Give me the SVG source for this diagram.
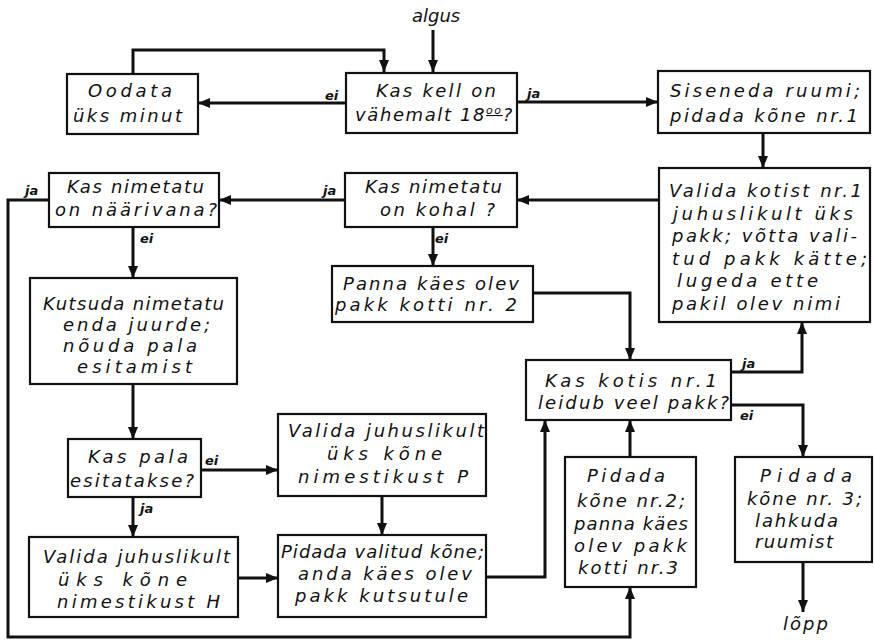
<svg xmlns="http://www.w3.org/2000/svg" width="874" height="640" viewBox="0 0 874 640">
<style>
  .box { fill: #fff; stroke: #111; stroke-width: 2.2; }
  .t { font-family: "DejaVu Sans", "Liberation Sans", sans-serif; font-style: italic; font-size: 18px; fill: #111; }
  .lbl { font-family: "DejaVu Sans", "Liberation Sans", sans-serif; font-style: italic; font-weight: bold; font-size: 13px; fill: #111; }
  .c { fill: none; stroke: #111; stroke-width: 3; stroke-linejoin: miter; }
</style>
<defs>
  <marker id="ah" markerUnits="userSpaceOnUse" markerWidth="12" markerHeight="12" viewBox="0 0 12 12" refX="12" refY="6" orient="auto">
    <path d="M0,1 L12,6 L0,11 Z" fill="#111"/>
  </marker>
</defs>
<rect width="874" height="640" fill="#fff"/>

<g id="connectors">
  <path class="c" d="M433,30 L433,72" marker-end="url(#ah)"/>
  <path class="c" d="M346,103 L198,103" marker-end="url(#ah)"/>
  <path class="c" d="M133,74 L133,50 L384,50 L384,72" marker-end="url(#ah)"/>
  <path class="c" d="M517,102 L658,102" marker-end="url(#ah)"/>
  <path class="c" d="M763,133 L763,168" marker-end="url(#ah)"/>
  <path class="c" d="M659,200 L517,200" marker-end="url(#ah)"/>
  <path class="c" d="M345,200 L219,200" marker-end="url(#ah)"/>
  <path class="c" d="M49,200 L8,200 L8,637 L630,637 L630,587" marker-end="url(#ah)"/>
  <path class="c" d="M133,227 L133,278" marker-end="url(#ah)"/>
  <path class="c" d="M133,384 L133,439" marker-end="url(#ah)"/>
  <path class="c" d="M201,470 L278,470" marker-end="url(#ah)"/>
  <path class="c" d="M382,496 L382,535" marker-end="url(#ah)"/>
  <path class="c" d="M133,497 L133,537" marker-end="url(#ah)"/>
  <path class="c" d="M238,578 L278,578" marker-end="url(#ah)"/>
  <path class="c" d="M486,577 L545,577 L545,420" marker-end="url(#ah)"/>
  <path class="c" d="M433,227 L433,266" marker-end="url(#ah)"/>
  <path class="c" d="M533,293 L630,293 L630,360" marker-end="url(#ah)"/>
  <path class="c" d="M731,372 L802,372 L802,322" marker-end="url(#ah)"/>
  <path class="c" d="M731,405 L803,405 L803,457" marker-end="url(#ah)"/>
  <path class="c" d="M803,562 L803,612" marker-end="url(#ah)"/>
  <path class="c" d="M630,457 L630,420" marker-end="url(#ah)"/>
  <text class="lbl" x="325" y="100">ei</text>
  <text class="lbl" x="527" y="98">ja</text>
  <text class="lbl" x="323" y="195">ja</text>
  <text class="lbl" x="25" y="195">ja</text>
  <text class="lbl" x="140" y="243">ei</text>
  <text class="lbl" x="435" y="243">ei</text>
  <text class="lbl" x="205" y="465">ei</text>
  <text class="lbl" x="140" y="513">ja</text>
  <text class="lbl" x="742" y="368">ja</text>
  <text class="lbl" x="740" y="420">ei</text>
</g>

<g id="start">
  <text class="t" x="412" y="22" font-size="14">algus</text>
</g>
<g id="end">
  <text class="t" x="783" y="630" font-size="14" textLength="45" lengthAdjust="spacing">lõpp</text>
</g>

<g id="oodata">
  <rect class="box" x="67" y="74" width="131" height="60"/>
  <text class="t" x="88" y="97" textLength="84" lengthAdjust="spacing">Oodata</text>
  <text class="t" x="73" y="122" textLength="109" lengthAdjust="spacing">üks minut</text>
</g>

<g id="kas-kell">
  <rect class="box" x="346" y="73" width="171" height="60"/>
  <text class="t" x="376" y="97" textLength="120" lengthAdjust="spacing">Kas kell on</text>
  <text class="t" x="355" y="121" letter-spacing="1.6">vähemalt 18<tspan font-size="11" dy="-7" text-decoration="underline">oo</tspan><tspan dy="7">?</tspan></text>
</g>

<g id="siseneda">
  <rect class="box" x="658" y="71" width="212" height="62"/>
  <text class="t" x="670" y="97" textLength="190" lengthAdjust="spacing">Siseneda ruumi;</text>
  <text class="t" x="670" y="122" textLength="188" lengthAdjust="spacing">pidada kõne nr.1</text>
</g>

<g id="valida-kotist">
  <rect class="box" x="659" y="168" width="211" height="154"/>
  <text class="t" x="669" y="197" textLength="193" lengthAdjust="spacing">Valida kotist nr.1</text>
  <text class="t" x="673" y="220" textLength="180" lengthAdjust="spacing">juhuslikult üks</text>
  <text class="t" x="672" y="242" textLength="185" lengthAdjust="spacing">pakk; võtta vali-</text>
  <text class="t" x="672" y="265" textLength="195" lengthAdjust="spacing">tud pakk kätte;</text>
  <text class="t" x="677" y="287" textLength="141" lengthAdjust="spacing">lugeda  ette</text>
  <text class="t" x="672" y="310" textLength="168" lengthAdjust="spacing">pakil olev nimi</text>
</g>

<g id="kas-kohal">
  <rect class="box" x="345" y="173" width="172" height="54"/>
  <text class="t" x="365" y="193" textLength="137" lengthAdjust="spacing">Kas nimetatu</text>
  <text class="t" x="380" y="216" textLength="115" lengthAdjust="spacing">on kohal ?</text>
</g>

<g id="kas-naarivana">
  <rect class="box" x="49" y="173" width="170" height="54"/>
  <text class="t" x="67" y="193" textLength="137" lengthAdjust="spacing">Kas nimetatu</text>
  <text class="t" x="55" y="216" textLength="162" lengthAdjust="spacing">on näärivana?</text>
</g>

<g id="panna">
  <rect class="box" x="332" y="266" width="201" height="56"/>
  <text class="t" x="343" y="290" textLength="176" lengthAdjust="spacing">Panna käes olev</text>
  <text class="t" x="335" y="311" textLength="182" lengthAdjust="spacing">pakk kotti nr. 2</text>
</g>

<g id="kutsuda">
  <rect class="box" x="30" y="278" width="207" height="106"/>
  <text class="t" x="43" y="310" textLength="181" lengthAdjust="spacing">Kutsuda nimetatu</text>
  <text class="t" x="63" y="331" textLength="147" lengthAdjust="spacing">enda juurde;</text>
  <text class="t" x="63" y="352" textLength="134" lengthAdjust="spacing">nõuda pala</text>
  <text class="t" x="77" y="373" textLength="115" lengthAdjust="spacing">esitamist</text>
</g>

<g id="kas-pala">
  <rect class="box" x="68" y="439" width="133" height="58"/>
  <text class="t" x="88" y="463" textLength="100" lengthAdjust="spacing">Kas pala</text>
  <text class="t" x="70" y="487" textLength="124" lengthAdjust="spacing">esitatakse?</text>
</g>

<g id="valida-p">
  <rect class="box" x="278" y="414" width="208" height="82"/>
  <text class="t" x="288" y="437" textLength="196" lengthAdjust="spacing">Valida juhuslikult</text>
  <text class="t" x="327" y="460" textLength="115" lengthAdjust="spacing">üks kõne</text>
  <text class="t" x="298" y="483" textLength="170" lengthAdjust="spacing">nimestikust P</text>
</g>

<g id="valida-h">
  <rect class="box" x="29" y="537" width="209" height="80"/>
  <text class="t" x="43" y="563" textLength="187" lengthAdjust="spacing">Valida juhuslikult</text>
  <text class="t" x="58" y="586" textLength="129" lengthAdjust="spacing">üks kõne</text>
  <text class="t" x="57" y="608" textLength="163" lengthAdjust="spacing">nimestikust H</text>
</g>

<g id="pidada-valitud">
  <rect class="box" x="278" y="535" width="208" height="82"/>
  <text class="t" x="281" y="558" textLength="203" lengthAdjust="spacing">Pidada valitud kõne;</text>
  <text class="t" x="298" y="580" textLength="174" lengthAdjust="spacing">anda käes olev</text>
  <text class="t" x="295" y="602" textLength="173" lengthAdjust="spacing">pakk kutsutule</text>
</g>

<g id="kas-kotis">
  <rect class="box" x="526" y="360" width="205" height="60"/>
  <text class="t" x="545" y="387" textLength="172" lengthAdjust="spacing">Kas kotis nr.1</text>
  <text class="t" x="538" y="409" textLength="191" lengthAdjust="spacing">leidub veel pakk?</text>
</g>

<g id="pidada-2">
  <rect class="box" x="565" y="457" width="131" height="130"/>
  <text class="t" x="587" y="482" textLength="78" lengthAdjust="spacing">Pidada</text>
  <text class="t" x="577" y="507" textLength="108" lengthAdjust="spacing">kõne nr.2;</text>
  <text class="t" x="574" y="530" textLength="114" lengthAdjust="spacing">panna käes</text>
  <text class="t" x="574" y="552" textLength="113" lengthAdjust="spacing">olev pakk</text>
  <text class="t" x="578" y="574" textLength="100" lengthAdjust="spacing">kotti nr.3</text>
</g>

<g id="pidada-3">
  <rect class="box" x="735" y="457" width="137" height="105"/>
  <text class="t" x="760" y="482" textLength="92" lengthAdjust="spacing">Pidada</text>
  <text class="t" x="747" y="505" textLength="115" lengthAdjust="spacing">kõne nr. 3;</text>
  <text class="t" x="755" y="527" textLength="83" lengthAdjust="spacing">lahkuda</text>
  <text class="t" x="755" y="548" textLength="78" lengthAdjust="spacing">ruumist</text>
</g>
</svg>
